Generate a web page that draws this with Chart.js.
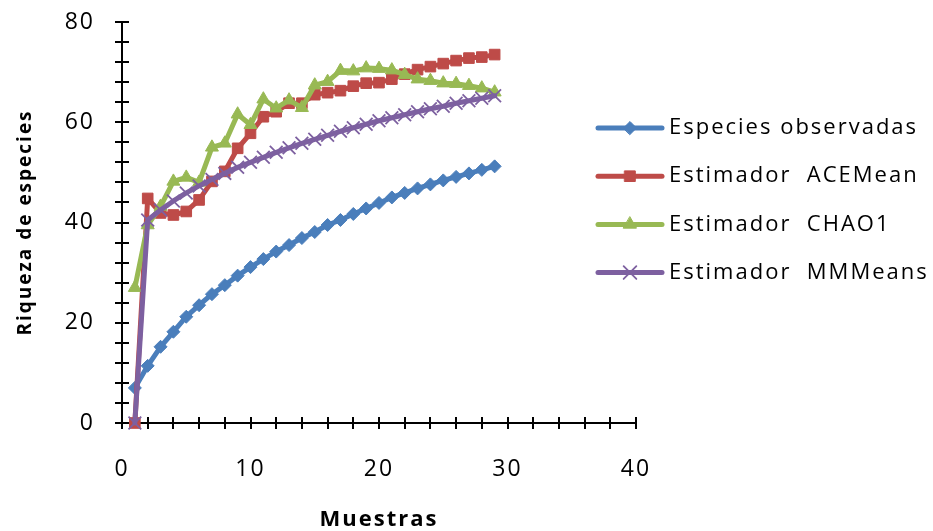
<!DOCTYPE html>
<html>
<head>
<meta charset="utf-8">
<script src="https://cdn.jsdelivr.net/npm/chart.js@4/dist/chart.umd.min.js"></script>
<style>
  html, body { margin: 0; padding: 0; background: #ffffff; }
  #wrap { width: 933px; height: 531px; position: relative; }
</style>
</head>
<body>
<div id="wrap"><canvas id="chart" width="933" height="531"></canvas></div>
<script>
// Número de muestras (eje X)
const muestras = [1,2,3,4,5,6,7,8,9,10,11,12,13,14,15,16,17,18,19,20,21,22,23,24,25,26,27,28,29];

// Riqueza de especies por muestra
const especiesObservadas = [7,11.4,15.2,18.2,21.2,23.5,25.7,27.5,29.4,31.1,32.7,34.2,35.5,36.9,38.1,39.5,40.5,41.7,42.8,43.9,45.0,45.9,46.8,47.6,48.4,49.1,49.8,50.5,51.2];
const aceMean = [0,44.8,41.9,41.5,42.2,44.5,48.2,50.2,54.8,57.8,61.1,62.1,63.8,63.8,65.5,65.9,66.3,67.2,67.8,67.9,68.6,69.6,70.5,71.1,71.7,72.3,72.8,73.0,73.5];
const chao1 = [27,39.5,43.2,48.2,49.0,48.0,55.0,55.8,61.6,59.5,64.6,62.8,64.4,62.9,67.4,68.1,70.3,70.2,70.8,70.7,70.4,69.5,68.6,68.3,67.8,67.7,67.3,66.8,66.0];
const mmMeans = [0,40.5,42.5,44.3,45.9,47.3,48.6,49.8,51.0,52.0,53.0,54.0,54.9,55.8,56.6,57.4,58.2,58.9,59.6,60.3,60.9,61.5,62.1,62.7,63.2,63.8,64.3,64.8,65.3];

// Nombres de las series
const seriesNames = ['Especies observadas', 'Estimador  ACEMean', 'Estimador  CHAO1', 'Estimador  MMMeans'];

// Escalas y marcas de los ejes
const xMin = 0, xMax = 40, xLabelStep = 10, xMinorStep = 2;
const yMin = 0, yMax = 80, yLabelStep = 20, yMinorStep = 4;
const xTitle = 'Muestras';
const yTitle = 'Riqueza de especies';

const FONT = '"Open Sans", "Liberation Sans", sans-serif';

function toPoints(values) {
  return muestras.map((m, i) => ({ x: m, y: values[i] }));
}

const datasets = [
  { label: seriesNames[0], data: toPoints(especiesObservadas), borderColor: '#4a7ebb', backgroundColor: '#4a7ebb',
    pointStyle: 'rectRot', pointRadius: 6.5, borderWidth: 5, pointBorderWidth: 1, order: 4 },
  { label: seriesNames[1], data: toPoints(aceMean), borderColor: '#be4b48', backgroundColor: '#be4b48',
    pointStyle: 'rect', pointRadius: 7.5, borderWidth: 5, pointBorderWidth: 1, order: 3 },
  { label: seriesNames[2], data: toPoints(chao1), borderColor: '#98b954', backgroundColor: '#98b954',
    pointStyle: 'triangle', pointRadius: 7.5, borderWidth: 5, pointBorderWidth: 1, order: 2 },
  { label: seriesNames[3], data: toPoints(mmMeans), borderColor: '#7d60a0', backgroundColor: '#7d60a0',
    pointStyle: 'crossRot', pointRadius: 9, borderWidth: 5, pointBorderWidth: 1.8, order: 1 }
];

// Espaciado de letras para todo el texto del lienzo
const spacingPlugin = {
  id: 'letterSpacing',
  beforeInit(chart) { chart.ctx.letterSpacing = '2px'; },
  beforeDraw(chart) { chart.ctx.letterSpacing = '2px'; }
};

// Ejes con marcas que cruzan la línea del eje
const axesPlugin = {
  id: 'crossAxes',
  beforeDatasetsDraw(chart) {
    const { ctx, scales } = chart;
    const xs = scales.x, ys = scales.y;
    const x0 = xs.getPixelForValue(xMin);
    const y0 = ys.getPixelForValue(yMin);
    ctx.save();
    ctx.strokeStyle = '#000000';
    ctx.lineWidth = 2;
    ctx.beginPath();
    ctx.moveTo(x0, ys.getPixelForValue(yMax));
    ctx.lineTo(x0, y0);
    ctx.moveTo(x0, y0);
    ctx.lineTo(xs.getPixelForValue(xMax), y0);
    for (let v = yMin; v <= yMax; v += yMinorStep) {
      const p = Math.round(ys.getPixelForValue(v));
      ctx.moveTo(x0 - 7, p);
      ctx.lineTo(x0 + 7, p);
    }
    for (let v = xMin; v <= xMax; v += xMinorStep) {
      const p = Math.round(xs.getPixelForValue(v));
      ctx.moveTo(p, y0 - 6);
      ctx.lineTo(p, y0 + 6);
    }
    ctx.stroke();
    ctx.restore();
  }
};

// Leyenda a la derecha: línea con marcador y nombre
const legendPlugin = {
  id: 'sideLegend',
  afterDraw(chart) {
    const { ctx } = chart;
    const lx0 = 598, lx1 = 662, ty = 128, gap = 48.2;
    chart.data.datasets.forEach((ds, i) => {
      const y = ty + i * gap;
      ctx.save();
      ctx.strokeStyle = ds.borderColor;
      ctx.lineWidth = ds.borderWidth;
      ctx.lineCap = 'round';
      ctx.beginPath();
      ctx.moveTo(lx0, y);
      ctx.lineTo(lx1, y);
      ctx.stroke();
      ctx.fillStyle = ds.backgroundColor;
      ctx.strokeStyle = ds.borderColor;
      ctx.lineWidth = ds.pointBorderWidth;
      Chart.helpers.drawPoint(ctx, { pointStyle: ds.pointStyle, rotation: 0, radius: ds.pointRadius, borderWidth: ds.pointBorderWidth }, (lx0 + lx1) / 2, y);
      ctx.restore();
      ctx.save();
      ctx.fillStyle = '#000000';
      ctx.font = '22px ' + FONT;
      ctx.letterSpacing = '2px';
      ctx.textBaseline = 'middle';
      ctx.textAlign = 'left';
      ctx.fillText(ds.label, 669, y);
      ctx.restore();
    });
  }
};

new Chart(document.getElementById('chart'), {
  type: 'line',
  data: { datasets },
  plugins: [spacingPlugin, axesPlugin, legendPlugin],
  options: {
    responsive: false,
    animation: false,
    devicePixelRatio: 1,
    layout: { autoPadding: false, padding: { top: 22, right: 297, left: 0, bottom: 0 } },
    elements: {
      line: { tension: 0, borderJoinStyle: 'round', borderCapStyle: 'round' },
      point: { hoverRadius: 0 }
    },
    datasets: { line: { clip: false } },
    plugins: { legend: { display: false }, tooltip: { enabled: false } },
    scales: {
      x: {
        type: 'linear', min: xMin, max: xMax,
        grid: { display: false, drawTicks: false }, border: { display: false },
        ticks: { stepSize: xLabelStep, color: '#000000', padding: 33, maxRotation: 0, font: { family: FONT, size: 23 } },
        title: { display: true, text: xTitle, color: '#000000', padding: 0, font: { family: FONT, size: 22, weight: 'bold', lineHeight: 1.0 } },
        afterFit(s) { s.height = 108; s.paddingLeft = 0; s.paddingRight = 0; }
      },
      y: {
        type: 'linear', min: yMin, max: yMax,
        grid: { display: false, drawTicks: false }, border: { display: false },
        ticks: { stepSize: yLabelStep, color: '#000000', padding: 27, font: { family: FONT, size: 23 } },
        title: { display: true, text: yTitle, color: '#000000', padding: { top: 16, bottom: 0 }, font: { family: FONT, size: 19, weight: 'bold', lineHeight: 1.0 } },
        afterFit(s) { s.width = 122; s.paddingTop = 0; s.paddingBottom = 0; }
      }
    }
  }
});
</script>
</body>
</html>
